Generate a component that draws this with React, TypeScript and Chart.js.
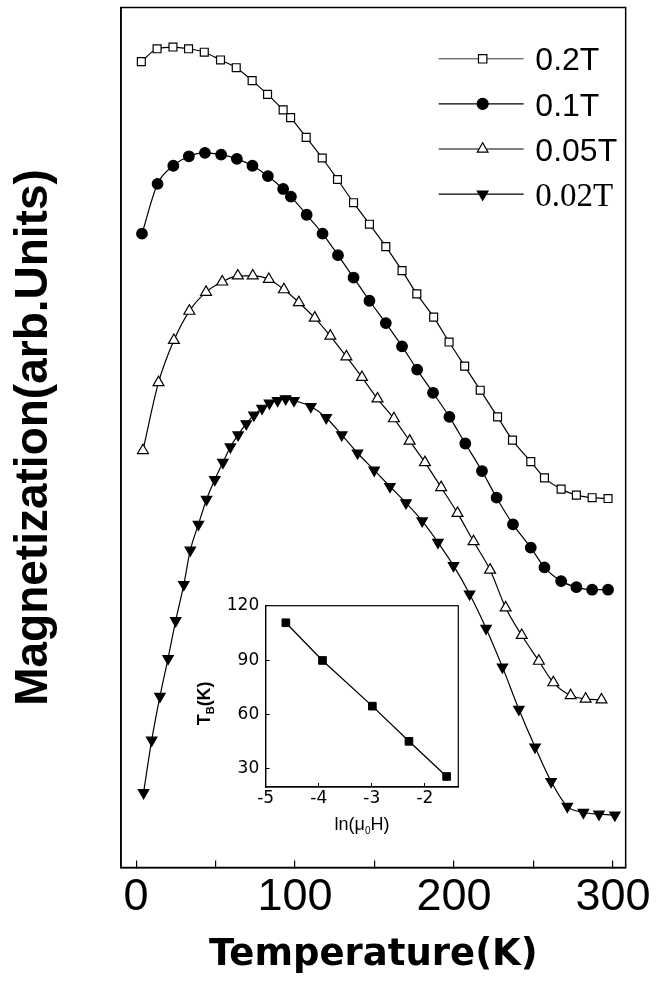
import React, { useEffect, useRef } from 'react';
import { Chart, registerables } from 'chart.js';

Chart.register(...registerables);

// ---------- data ----------
const T_02 = [3.3, 13.2, 23.2, 33.0, 42.9, 53.1, 63.0, 73.0, 82.7, 92.5, 97.2, 107.0, 117.1, 126.7, 136.8, 146.8, 157.1, 167.3, 176.6, 187.2, 196.9, 206.7, 216.5, 227.4, 236.8, 248.3, 256.9, 267.4, 277.0, 286.9, 296.9];
const M_02 = [93.7, 95.2, 95.4, 95.2, 94.8, 93.9, 93.0, 91.5, 89.9, 88.1, 87.2, 84.9, 82.5, 80.0, 77.3, 74.8, 72.2, 69.4, 66.7, 64.0, 61.1, 58.3, 55.5, 52.4, 49.7, 47.2, 45.3, 44.0, 43.3, 43.0, 42.9];

const T_01 = [3.7, 13.5, 23.4, 33.2, 43.3, 53.5, 63.4, 73.2, 82.9, 92.5, 97.4, 107.3, 117.3, 127.0, 136.8, 146.8, 157.1, 167.3, 176.8, 186.8, 197.1, 207.1, 217.6, 226.8, 237.1, 248.3, 256.9, 267.4, 277.0, 286.9, 296.9];
const M_01 = [73.7, 79.5, 81.6, 82.7, 83.1, 82.9, 82.4, 81.6, 80.4, 78.9, 78.0, 75.9, 73.7, 71.2, 68.6, 65.9, 63.3, 60.6, 57.9, 55.2, 52.4, 49.3, 46.1, 43.0, 39.9, 37.2, 34.9, 33.3, 32.6, 32.3, 32.3];

const T_005 = [4.3, 14.1, 23.8, 33.5, 44.0, 54.2, 64.0, 73.4, 83.5, 93.0, 102.4, 112.4, 122.2, 132.3, 142.1, 151.9, 162.2, 172.1, 181.7, 191.9, 202.2, 212.3, 222.7, 232.5, 242.6, 253.4, 262.5, 273.4, 282.8, 292.8];
const M_005 = [48.5, 56.4, 61.3, 64.7, 66.9, 68.1, 68.8, 68.8, 68.4, 67.2, 65.7, 63.9, 61.8, 59.4, 57.0, 54.5, 52.2, 49.6, 47.1, 44.2, 41.2, 37.9, 34.6, 30.2, 27.0, 24.0, 21.5, 20.0, 19.6, 19.5];

const T_002 = [4.7, 9.8, 15.0, 20.1, 24.9, 30.0, 34.1, 39.2, 44.3, 49.5, 54.6, 59.3, 64.2, 69.3, 74.1, 79.2, 83.9, 89.0, 94.1, 99.3, 109.9, 119.6, 129.4, 139.3, 149.8, 159.7, 169.8, 180.0, 189.9, 199.7, 209.8, 220.2, 230.5, 240.8, 251.0, 261.1, 271.3, 281.4, 291.2, 301.2];
const M_002 = [8.7, 14.8, 19.9, 24.3, 28.7, 32.9, 36.9, 39.9, 42.8, 45.1, 47.1, 48.9, 50.3, 51.6, 52.6, 53.4, 54.0, 54.3, 54.5, 54.3, 53.6, 52.3, 50.3, 48.2, 46.2, 44.3, 42.4, 40.3, 37.8, 35.1, 31.8, 27.8, 23.3, 18.4, 14.0, 10.0, 7.1, 6.4, 6.2, 6.1];

const SERIES_LABELS = ['0.2T', '0.1T', '0.05T', '0.02T'];
const X_TICKS = [0, 50, 100, 150, 200, 250, 300];
const X_TICK_LABELS = [0, 100, 200, 300];

const INSET_LNH = [-4.62, -3.93, -2.99, -2.30, -1.59];
const INSET_TB = [110.6, 89.8, 64.6, 45.2, 25.8];
const INSET_X_TICKS = [-5, -4, -3, -2];
const INSET_Y_TICKS = [30, 60, 90, 120];

// ---------- helpers ----------
const pts = (xs: number[], ys: number[]) => xs.map((x, i) => ({ x, y: ys[i] }));
const SANS = '"Liberation Sans", Arial, sans-serif';
const SERIF = '"Liberation Serif", "Times New Roman", serif';
const DEJAVU = '"DejaVu Sans", sans-serif';

type MarkerKind = 'rect' | 'circle' | 'triUp' | 'triDown';
const LEGEND_STYLE: { kind: MarkerKind; fill: string; size: number; font: string; lw: number }[] = [
  { kind: 'rect', fill: '#fff', size: 4.2, font: `32px ${SANS}`, lw: 0.8 },
  { kind: 'circle', fill: '#000', size: 5.5, font: `32px ${SANS}`, lw: 1.2 },
  { kind: 'triUp', fill: '#fff', size: 6.2, font: `32px ${SANS}`, lw: 1.2 },
  { kind: 'triDown', fill: '#000', size: 6.2, font: `33px ${SERIF}`, lw: 1.2 },
];

function drawMarker(ctx: CanvasRenderingContext2D, kind: MarkerKind, x: number, y: number, s: number, fill: string) {
  ctx.beginPath();
  if (kind === 'rect') {
    ctx.rect(x - s, y - s, 2 * s, 2 * s);
  } else if (kind === 'circle') {
    ctx.arc(x, y, s, 0, Math.PI * 2);
  } else {
    const d = kind === 'triUp' ? 1 : -1;
    const h = s * Math.sin(Math.PI / 3);
    ctx.moveTo(x, y - d * s);
    ctx.lineTo(x + h, y + d * s / 2);
    ctx.lineTo(x - h, y + d * s / 2);
    ctx.closePath();
  }
  ctx.fillStyle = fill;
  ctx.fill();
  ctx.strokeStyle = '#000';
  ctx.lineWidth = 1.2;
  ctx.stroke();
}

const mainPlugin = {
  id: 'mainDecor',
  afterDraw(chart: any) {
    const { ctx, chartArea: a } = chart;
    ctx.save();
    ctx.strokeStyle = '#000';
    ctx.lineWidth = 1.5;
    ctx.strokeRect(a.left, a.top, a.right - a.left, a.bottom - a.top);
    // legend
    SERIES_LABELS.forEach((label, i) => {
      const st = LEGEND_STYLE[i];
      const y = a.top + 51.3 + i * 45.1;
      const x0 = a.right - 187;
      const x1 = a.right - 102;
      const xm = a.right - 143;
      ctx.beginPath();
      ctx.moveTo(x0, y);
      ctx.lineTo(x1, y);
      ctx.strokeStyle = '#000';
      ctx.lineWidth = st.lw;
      ctx.stroke();
      drawMarker(ctx, st.kind, xm, y, st.size, st.fill);
      ctx.fillStyle = '#000';
      ctx.font = st.font;
      ctx.textAlign = 'left';
      ctx.textBaseline = 'alphabetic';
      ctx.fillText(label, a.right - 90.3, y + 11.6);
    });
    ctx.restore();
  },
};

function drawParts(ctx: CanvasRenderingContext2D, parts: { t: string; f: string; dy: number }[], cx: number, baseY: number) {
  let total = 0;
  parts.forEach((p) => {
    ctx.font = p.f;
    total += ctx.measureText(p.t).width;
  });
  let x = cx - total / 2;
  parts.forEach((p) => {
    ctx.font = p.f;
    ctx.fillText(p.t, x, baseY + p.dy);
    x += ctx.measureText(p.t).width;
  });
}

const insetPlugin = {
  id: 'insetDecor',
  afterDraw(chart: any) {
    const { ctx, chartArea: a } = chart;
    ctx.save();
    ctx.strokeStyle = '#000';
    ctx.lineWidth = 1.2;
    ctx.strokeRect(a.left, a.top, a.right - a.left, a.bottom - a.top);
    ctx.fillStyle = '#000';
    ctx.textAlign = 'left';
    ctx.textBaseline = 'alphabetic';
    // x title: ln(μ0H)
    drawParts(ctx, [
      { t: 'ln(\u03BC', f: `18px ${SANS}`, dy: 0 },
      { t: '0', f: `10px ${SANS}`, dy: 4 },
      { t: 'H)', f: `18px ${SANS}`, dy: 0 },
    ], (a.left + a.right) / 2, a.bottom + 43);
    // y title: T_B(K)
    ctx.translate(a.left - 56, (a.top + a.bottom) / 2 + 7);
    ctx.rotate(-Math.PI / 2);
    drawParts(ctx, [
      { t: 'T', f: `bold 18px ${SANS}`, dy: 0 },
      { t: 'B', f: `bold 11px ${SANS}`, dy: 4 },
      { t: '(K)', f: `bold 18px ${SANS}`, dy: 0 },
    ], 0, 0);
    ctx.restore();
  },
};

function mainConfig(): any {
  const common = { borderColor: '#000', borderWidth: 1.2, pointBorderColor: '#000', pointBorderWidth: 1.2, cubicInterpolationMode: 'monotone', fill: false };
  return {
    type: 'line',
    data: {
      datasets: [
        { ...common, label: SERIES_LABELS[0], data: pts(T_02, M_02), pointStyle: 'rect', pointRadius: 5.6, pointBackgroundColor: '#fff' },
        { ...common, label: SERIES_LABELS[1], data: pts(T_01, M_01), pointStyle: 'circle', pointRadius: 5.3, pointBackgroundColor: '#000' },
        { ...common, label: SERIES_LABELS[2], data: pts(T_005, M_005), pointStyle: 'triangle', pointRadius: 6.3, pointBackgroundColor: '#fff' },
        { ...common, label: SERIES_LABELS[3], data: pts(T_002, M_002), pointStyle: 'triangle', pointRotation: 180, pointRadius: 6, pointBackgroundColor: '#000' },
      ],
    },
    options: {
      responsive: false,
      animation: false,
      events: [],
      layout: { padding: { left: 0, right: 24, top: 6, bottom: 0 } },
      plugins: { legend: { display: false }, tooltip: { enabled: false } },
      scales: {
        x: {
          type: 'linear',
          min: -9.5,
          max: 308,
          afterBuildTicks: (axis: any) => { axis.ticks = X_TICKS.map((v) => ({ value: v })); },
          afterFit: (s: any) => { s.height = 122.5; },
          ticks: {
            color: '#000',
            font: { family: SANS, size: 45 },
            padding: 9.9,
            maxRotation: 0,
            autoSkip: false,
            callback: (v: number) => (X_TICK_LABELS.includes(v) ? String(v) : ''),
          },
          grid: { display: true, drawOnChartArea: false, drawTicks: true, tickLength: -7, color: '#000', lineWidth: 1.2 },
          border: { display: true, color: '#000', width: 1.5 },
          title: {
            display: true,
            text: 'Temperature(K)',
            color: '#000',
            font: { family: DEJAVU, size: 37, weight: 'bold' },
            padding: { top: 0, bottom: 12 },
          },
        },
        y: {
          type: 'linear',
          min: 0,
          max: 100,
          afterFit: (s: any) => { s.width = 121; },
          ticks: { display: false },
          grid: { display: false },
          border: { display: true, color: '#000', width: 1.5 },
          title: {
            display: true,
            text: 'Magnetization(arb.Units)',
            color: '#000',
            font: { family: SANS, size: 46, weight: 'bold' },
            padding: { top: 6.4, bottom: 0 },
          },
        },
      },
    },
    plugins: [mainPlugin],
  };
}

function insetConfig(): any {
  return {
    type: 'line',
    data: {
      datasets: [
        {
          label: 'TB',
          data: pts(INSET_LNH, INSET_TB),
          borderColor: '#000',
          borderWidth: 1.3,
          tension: 0,
          pointStyle: 'rect',
          pointRadius: 5.4,
          pointBackgroundColor: '#000',
          pointBorderColor: '#000',
          pointBorderWidth: 1,
        },
      ],
    },
    options: {
      responsive: false,
      animation: false,
      events: [],
      layout: { padding: { left: 0, right: 11.7, top: 14, bottom: 0 } },
      plugins: { legend: { display: false }, tooltip: { enabled: false } },
      scales: {
        x: {
          type: 'linear',
          min: -5,
          max: -1.37,
          afterBuildTicks: (axis: any) => { axis.ticks = INSET_X_TICKS.map((v) => ({ value: v })); },
          afterFit: (s: any) => { s.height = 63; },
          ticks: { color: '#000', font: { family: DEJAVU, size: 17 }, padding: 5.5, maxRotation: 0, autoSkip: false },
          grid: { display: true, drawOnChartArea: false, drawTicks: true, tickLength: -4, color: '#000', lineWidth: 1 },
          border: { display: true, color: '#000', width: 1.2 },
        },
        y: {
          type: 'linear',
          min: 20,
          max: 120,
          afterBuildTicks: (axis: any) => { axis.ticks = INSET_Y_TICKS.map((v) => ({ value: v })); },
          afterFit: (s: any) => { s.width = 85.7; },
          ticks: { color: '#000', font: { family: DEJAVU, size: 17 }, padding: 10.5, autoSkip: false },
          grid: { display: true, drawOnChartArea: false, drawTicks: true, tickLength: -4, color: '#000', lineWidth: 1 },
          border: { display: true, color: '#000', width: 1.2 },
        },
      },
    },
    plugins: [insetPlugin],
  };
}

export default function App() {
  const mainRef = useRef<HTMLCanvasElement>(null);
  const insetRef = useRef<HTMLCanvasElement>(null);
  useEffect(() => {
    const main = new Chart(mainRef.current as HTMLCanvasElement, mainConfig());
    const inset = new Chart(insetRef.current as HTMLCanvasElement, insetConfig());
    return () => {
      main.destroy();
      inset.destroy();
    };
  }, []);
  return (
    <div style={{ position: 'absolute', left: 0, top: 0, width: 661, height: 990, background: '#fff', overflow: 'hidden' }}>
      <canvas ref={mainRef} width={661} height={990} style={{ position: 'absolute', left: 0, top: 0 }} />
      <canvas ref={insetRef} width={290} height={265} style={{ position: 'absolute', left: 180, top: 585 }} />
    </div>
  );
}
